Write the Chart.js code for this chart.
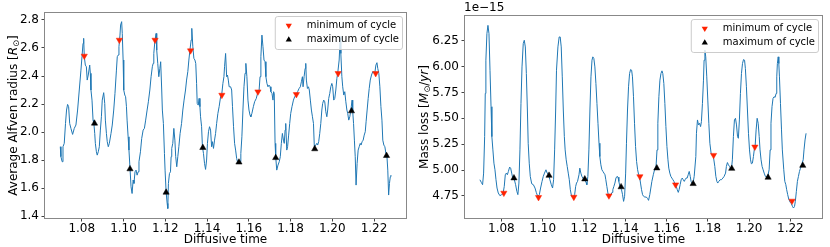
<!DOCTYPE html>
<html>
<head>
<meta charset="utf-8">
<script src="https://cdn.jsdelivr.net/npm/chart.js@4.4.1/dist/chart.umd.min.js"></script>
<style>
    html, body { margin: 0; padding: 0; background: #fff; }
    #painel { position: relative; width: 830px; height: 247px; overflow: hidden; }
    .quadro { position: absolute; top: 0; width: 415px; height: 247px; }
</style>
</head>
<body>
<div id="painel">
    <div class="quadro" style="left:0"><canvas id="chartRaio" width="415" height="247"></canvas></div>
    <div class="quadro" style="left:415px"><canvas id="chartPerda" width="415" height="247"></canvas></div>
</div>
<script>
// ==================================================
// DATA
// ==================================================

const timeTicks = [1.08, 1.10, 1.12, 1.14, 1.16, 1.18, 1.20, 1.22];
const radiusTicks = [1.4, 1.6, 1.8, 2.0, 2.2, 2.4, 2.6, 2.8];
const massTicks = [4.75, 5.00, 5.25, 5.50, 5.75, 6.00, 6.25];

// cycle markers (same times in both panels)
const minTimes = [1.0812, 1.0980, 1.1151, 1.1321, 1.1471, 1.1644, 1.1828, 1.2028, 1.2208];
const maxTimes = [1.0861, 1.1031, 1.1204, 1.1380, 1.1553, 1.1729, 1.1916, 1.2092, 1.2260];

const minRadius = [2.543, 2.657, 2.657, 2.581, 2.264, 2.288, 2.269, 2.419, 2.419];
const maxRadius = [2.062, 1.736, 1.569, 1.888, 1.784, 1.816, 1.879, 2.150, 1.831];

const minMassLoss = [4.779, 4.737, 4.740, 4.753, 4.938, 4.859, 5.144, 5.224, 4.702];
const maxMassLoss = [4.923, 4.948, 4.913, 4.837, 5.019, 4.868, 5.015, 4.929, 5.044];

// Average Alfven radius curve
const radiusTime = [
    1.0697, 1.0700, 1.0706, 1.0710, 1.0716, 1.0722, 1.0727, 1.0732, 1.0737, 1.0742,
    1.0748, 1.0756, 1.0764, 1.0772, 1.0780, 1.0788, 1.0796, 1.0801, 1.0806, 1.0809,
    1.0812, 1.0817, 1.0822, 1.0826, 1.0831, 1.0838, 1.0841, 1.0844, 1.0849, 1.0854,
    1.0858, 1.0862, 1.0865, 1.0870, 1.0874, 1.0879, 1.0884, 1.0889, 1.0894, 1.0898,
    1.0905, 1.0910, 1.0913, 1.0918, 1.0922, 1.0927, 1.0932, 1.0940, 1.0946, 1.0953,
    1.0959, 1.0966, 1.0970, 1.0975, 1.0978, 1.0983, 1.0986, 1.0991, 1.0994, 1.0998,
    1.1001, 1.1006, 1.1010, 1.1014, 1.1017, 1.1022, 1.1026, 1.1031, 1.1036, 1.1041,
    1.1046, 1.1050, 1.1055, 1.1060, 1.1065, 1.1070, 1.1074, 1.1081, 1.1087, 1.1094,
    1.1100, 1.1106, 1.1113, 1.1119, 1.1126, 1.1132, 1.1138, 1.1142, 1.1145, 1.1150,
    1.1156, 1.1159, 1.1164, 1.1169, 1.1174, 1.1178, 1.1183, 1.1186, 1.1191, 1.1196,
    1.1199, 1.1204, 1.1209, 1.1212, 1.1215, 1.1220, 1.1225, 1.1228, 1.1231, 1.1236,
    1.1241, 1.1246, 1.1250, 1.1255, 1.1260, 1.1265, 1.1271, 1.1278, 1.1284, 1.1290,
    1.1297, 1.1302, 1.1308, 1.1313, 1.1318, 1.1324, 1.1327, 1.1332, 1.1337, 1.1342,
    1.1346, 1.1350, 1.1353, 1.1358, 1.1362, 1.1366, 1.1369, 1.1374, 1.1378, 1.1383,
    1.1388, 1.1393, 1.1398, 1.1402, 1.1407, 1.1412, 1.1417, 1.1422, 1.1426, 1.1431,
    1.1436, 1.1441, 1.1446, 1.1452, 1.1458, 1.1465, 1.1471, 1.1476, 1.1481, 1.1484,
    1.1489, 1.1494, 1.1498, 1.1502, 1.1506, 1.1513, 1.1518, 1.1522, 1.1527, 1.1532,
    1.1537, 1.1542, 1.1546, 1.1551, 1.1558, 1.1562, 1.1567, 1.1572, 1.1577, 1.1582,
    1.1586, 1.1591, 1.1596, 1.1601, 1.1606, 1.1610, 1.1615, 1.1622, 1.1628, 1.1636,
    1.1644, 1.1649, 1.1654, 1.1658, 1.1663, 1.1668, 1.1673, 1.1678, 1.1682, 1.1687,
    1.1692, 1.1697, 1.1702, 1.1706, 1.1711, 1.1716, 1.1719, 1.1722, 1.1726, 1.1729,
    1.1734, 1.1740, 1.1746, 1.1751, 1.1756, 1.1761, 1.1766, 1.1770, 1.1774, 1.1777,
    1.1782, 1.1786, 1.1791, 1.1796, 1.1801, 1.1807, 1.1814, 1.1820, 1.1826, 1.1834,
    1.1841, 1.1847, 1.1852, 1.1857, 1.1860, 1.1865, 1.1870, 1.1873, 1.1876, 1.1881,
    1.1886, 1.1890, 1.1895, 1.1900, 1.1905, 1.1910, 1.1914, 1.1921, 1.1926, 1.1930,
    1.1935, 1.1940, 1.1945, 1.1950, 1.1954, 1.1959, 1.1964, 1.1969, 1.1974, 1.1978,
    1.1983, 1.1988, 1.1993, 1.1998, 1.2002, 1.2007, 1.2012, 1.2017, 1.2022, 1.2026,
    1.2033, 1.2038, 1.2041, 1.2046, 1.2050, 1.2055, 1.2060, 1.2065, 1.2070, 1.2074,
    1.2079, 1.2084, 1.2089, 1.2095, 1.2098, 1.2102, 1.2106, 1.2110, 1.2114, 1.2119,
    1.2124, 1.2129, 1.2134, 1.2138, 1.2143, 1.2148, 1.2153, 1.2158, 1.2162, 1.2167,
    1.2172, 1.2177, 1.2182, 1.2188, 1.2194, 1.2204, 1.2209, 1.2214, 1.2218, 1.2223,
    1.2228, 1.2233, 1.2238, 1.2242, 1.2247, 1.2252, 1.2257, 1.2262, 1.2266, 1.2270,
    1.2274, 1.2278, 1.2281
];
const radiusValues = [
    1.895, 1.824, 1.788, 1.895, 1.919, 2.061, 2.157, 2.197, 2.181, 2.061,
    2.026, 1.983, 2.026, 2.050, 2.157, 2.300, 2.442, 2.538, 2.633, 2.669,
    2.538, 2.478, 2.466, 2.371, 2.407, 2.478, 2.419, 2.300, 2.228, 2.085,
    2.061, 1.990, 1.919, 1.859, 1.835, 1.859, 1.895, 2.014, 2.109, 2.228,
    2.281, 2.204, 2.085, 1.990, 1.931, 1.895, 1.919, 1.990, 2.050, 2.157,
    2.276, 2.442, 2.538, 2.550, 2.609, 2.692, 2.764, 2.788, 2.704, 2.514,
    2.300, 2.264, 2.252, 2.181, 2.085, 1.966, 1.871, 1.740, 1.609, 1.561,
    1.657, 1.633, 1.716, 1.728, 1.692, 1.716, 1.788, 1.859, 1.954, 2.014,
    2.026, 2.085, 2.157, 2.216, 2.300, 2.395, 2.466, 2.490, 2.561, 2.645,
    2.704, 2.585, 2.490, 2.395, 2.454, 2.502, 2.300, 2.157, 2.061, 1.847,
    1.728, 1.573, 1.490, 1.454, 1.633, 1.704, 1.716, 1.824, 1.883, 1.919,
    2.026, 1.942, 1.824, 1.752, 1.824, 1.895, 1.990, 2.061, 2.157, 2.228,
    2.300, 2.371, 2.431, 2.514, 2.585, 2.657, 2.740, 2.609, 2.526, 2.514,
    2.490, 2.347, 2.204, 2.192, 2.240, 2.181, 2.109, 2.038, 1.895, 1.847,
    1.776, 1.733, 1.800, 1.919, 2.002, 2.038, 2.014, 1.895, 1.931, 1.883,
    1.942, 1.990, 2.061, 2.133, 2.181, 2.252, 2.276, 2.347, 2.395, 2.466,
    2.561, 2.395, 2.407, 2.371, 2.323, 2.323, 2.300, 2.181, 2.038, 1.919,
    1.871, 1.811, 1.788, 1.776, 1.788, 1.847, 1.966, 2.157, 2.323, 2.419,
    2.490, 2.395, 2.228, 2.157, 2.121, 2.109, 2.133, 2.181, 2.216, 2.240,
    2.288, 2.288, 2.395, 2.538, 2.692, 2.609, 2.514, 2.502, 2.395, 2.347,
    2.323, 2.335, 2.323, 2.288, 2.276, 2.228, 2.288, 2.276, 1.919, 1.824,
    1.728, 1.764, 1.788, 1.824, 1.919, 1.990, 1.942, 1.919, 2.014, 2.061,
    1.871, 1.895, 1.978, 2.061, 2.133, 2.181, 2.228, 2.252, 2.264, 2.288,
    2.311, 2.323, 2.359, 2.395, 2.323, 2.395, 2.454, 2.490, 2.371, 2.311,
    2.323, 2.300, 2.228, 2.157, 2.109, 2.061, 1.895, 1.907, 1.919, 1.907,
    1.931, 1.990, 2.061, 2.157, 2.204, 2.228, 2.216, 2.145, 2.109, 2.157,
    2.240, 2.276, 2.323, 2.347, 2.323, 2.228, 2.240, 2.300, 2.383, 2.419,
    2.514, 2.681, 2.561, 2.395, 2.323, 2.264, 2.288, 2.216, 2.157, 2.133,
    2.085, 2.109, 2.157, 2.228, 2.145, 2.061, 1.942, 1.824, 1.621, 1.776,
    1.871, 1.895, 1.919, 1.907, 1.931, 1.942, 1.978, 2.002, 2.073, 2.157,
    2.240, 2.311, 2.371, 2.407, 2.431, 2.423, 2.478, 2.495, 2.454, 2.419,
    2.323, 2.181, 2.085, 1.942, 1.907, 1.895, 1.847, 1.824, 1.728, 1.550,
    1.633, 1.681, 1.693
];

// Mass loss curve (units of 1e-15 Msun/yr)
const massTime = [
    1.0696, 1.0703, 1.0709, 1.0714, 1.0719, 1.0722, 1.0725, 1.0730, 1.0735, 1.0740,
    1.0745, 1.0750, 1.0754, 1.0759, 1.0764, 1.0769, 1.0774, 1.0779, 1.0785, 1.0793,
    1.0801, 1.0808, 1.0814, 1.0819, 1.0824, 1.0829, 1.0834, 1.0840, 1.0845, 1.0850,
    1.0855, 1.0863, 1.0869, 1.0875, 1.0880, 1.0885, 1.0890, 1.0895, 1.0900, 1.0906,
    1.0911, 1.0916, 1.0921, 1.0926, 1.0930, 1.0935, 1.0940, 1.0947, 1.0955, 1.0963,
    1.0969, 1.0976, 1.0984, 1.0990, 1.0997, 1.1003, 1.1009, 1.1016, 1.1022, 1.1029,
    1.1035, 1.1042, 1.1048, 1.1053, 1.1058, 1.1063, 1.1067, 1.1074, 1.1080, 1.1085,
    1.1090, 1.1095, 1.1100, 1.1105, 1.1109, 1.1114, 1.1119, 1.1124, 1.1129, 1.1134,
    1.1140, 1.1150, 1.1155, 1.1160, 1.1164, 1.1169, 1.1176, 1.1180, 1.1185, 1.1190,
    1.1195, 1.1201, 1.1206, 1.1210, 1.1214, 1.1219, 1.1224, 1.1229, 1.1234, 1.1239,
    1.1243, 1.1248, 1.1253, 1.1258, 1.1263, 1.1268, 1.1273, 1.1277, 1.1282, 1.1287,
    1.1292, 1.1297, 1.1302, 1.1306, 1.1311, 1.1316, 1.1321, 1.1326, 1.1331, 1.1336,
    1.1340, 1.1345, 1.1350, 1.1355, 1.1360, 1.1365, 1.1369, 1.1374, 1.1382, 1.1387,
    1.1392, 1.1397, 1.1402, 1.1406, 1.1411, 1.1416, 1.1421, 1.1426, 1.1431, 1.1435,
    1.1440, 1.1445, 1.1450, 1.1455, 1.1460, 1.1465, 1.1469, 1.1474, 1.1479, 1.1484,
    1.1489, 1.1495, 1.1502, 1.1508, 1.1513, 1.1519, 1.1524, 1.1529, 1.1536, 1.1542,
    1.1549, 1.1554, 1.1558, 1.1563, 1.1568, 1.1573, 1.1578, 1.1582, 1.1587, 1.1592,
    1.1597, 1.1602, 1.1607, 1.1611, 1.1616, 1.1621, 1.1626, 1.1631, 1.1636, 1.1640,
    1.1647, 1.1652, 1.1657, 1.1661, 1.1666, 1.1671, 1.1676, 1.1681, 1.1686, 1.1690,
    1.1695, 1.1700, 1.1705, 1.1710, 1.1715, 1.1719, 1.1724, 1.1729, 1.1734, 1.1742,
    1.1745, 1.1750, 1.1755, 1.1760, 1.1765, 1.1769, 1.1774, 1.1779, 1.1782, 1.1786,
    1.1790, 1.1795, 1.1800, 1.1805, 1.1810, 1.1816, 1.1821, 1.1827, 1.1834, 1.1839,
    1.1844, 1.1848, 1.1853, 1.1860, 1.1866, 1.1873, 1.1879, 1.1886, 1.1890, 1.1895,
    1.1900, 1.1905, 1.1910, 1.1915, 1.1919, 1.1924, 1.1929, 1.1934, 1.1939, 1.1944,
    1.1948, 1.1953, 1.1958, 1.1963, 1.1968, 1.1973, 1.1978, 1.1982, 1.1987, 1.1992,
    1.1997, 1.2002, 1.2007, 1.2011, 1.2016, 1.2021, 1.2026, 1.2029, 1.2034, 1.2039,
    1.2044, 1.2049, 1.2053, 1.2058, 1.2063, 1.2068, 1.2073, 1.2079, 1.2087, 1.2092,
    1.2097, 1.2102, 1.2106, 1.2111, 1.2116, 1.2121, 1.2126, 1.2131, 1.2134, 1.2137,
    1.2141, 1.2144, 1.2147, 1.2152, 1.2157, 1.2161, 1.2168, 1.2173, 1.2178, 1.2182,
    1.2187, 1.2192, 1.2199, 1.2205, 1.2210, 1.2215, 1.2220, 1.2224, 1.2229, 1.2234,
    1.2239, 1.2244, 1.2249, 1.2253, 1.2262, 1.2266, 1.2271, 1.2276
];
const massValues = [
    4.907, 4.881, 4.859, 4.971, 5.323, 5.740, 6.061, 6.317, 6.397, 6.317,
    5.964, 5.612, 5.323, 5.195, 5.067, 5.003, 4.907, 4.827, 4.779, 4.753,
    4.763, 4.772, 4.843, 4.955, 4.971, 4.955, 4.987, 5.029, 5.019, 4.971,
    4.923, 4.907, 4.859, 4.795, 4.763, 4.875, 5.195, 5.644, 5.996, 6.221,
    6.253, 6.189, 5.932, 5.580, 5.259, 5.067, 4.939, 4.868, 4.859, 4.827,
    4.785, 4.747, 4.763, 4.827, 4.891, 4.939, 4.971, 5.003, 4.971, 4.955,
    4.907, 4.859, 4.827, 4.907, 5.195, 5.580, 5.964, 6.189, 6.285, 6.285,
    6.189, 5.900, 5.580, 5.323, 5.195, 5.099, 5.035, 4.971, 4.907, 4.811,
    4.747, 4.740, 4.763, 4.843, 4.875, 4.891, 4.955, 5.019, 4.971, 4.939,
    4.923, 4.907, 4.900, 4.881, 4.859, 4.939, 5.195, 5.580, 5.900, 6.061,
    6.093, 6.077, 5.996, 5.836, 5.644, 5.452, 5.259, 5.131, 5.051, 5.003,
    4.987, 4.971, 4.955, 4.907, 4.843, 4.779, 4.747, 4.747, 4.763, 4.785,
    4.811, 4.843, 4.875, 4.923, 4.939, 4.932, 4.891, 4.843, 4.811, 4.763,
    4.698, 4.747, 4.971, 5.259, 5.580, 5.804, 5.932, 5.971, 5.964, 5.900,
    5.708, 5.452, 5.227, 5.083, 5.003, 4.955, 4.939, 4.875, 4.811, 4.763,
    4.747, 4.740, 4.740, 4.727, 4.708, 4.763, 4.827, 4.891, 4.955, 5.003,
    5.029, 5.195, 5.452, 5.708, 5.868, 5.932, 5.958, 5.932, 5.836, 5.644,
    5.420, 5.227, 5.099, 5.019, 4.971, 4.939, 4.923, 4.907, 4.891, 4.868,
    4.843, 4.811, 4.785, 4.811, 4.859, 4.907, 4.923, 4.907, 4.891, 4.907,
    4.923, 4.923, 4.955, 4.987, 4.939, 4.891, 4.875, 4.881, 4.939, 5.131,
    5.355, 5.484, 5.436, 5.452, 5.420, 5.468, 5.644, 5.868, 6.061, 6.157,
    6.093, 5.900, 5.676, 5.452, 5.259, 5.163, 5.147, 5.131, 5.035, 4.939,
    4.891, 4.875, 4.891, 4.907, 4.907, 4.923, 4.939, 4.971, 5.035, 5.073,
    5.051, 5.035, 5.019, 5.019, 5.099, 5.323, 5.484, 5.500, 5.436, 5.323,
    5.307, 5.484, 5.740, 5.932, 6.029, 6.067, 6.061, 5.980, 5.804, 5.580,
    5.355, 5.195, 5.099, 5.061, 5.067, 5.131, 5.211, 5.224, 5.388, 5.500,
    5.452, 5.323, 5.195, 5.099, 5.035, 5.003, 4.971, 4.939, 4.932, 4.955,
    5.003, 5.195, 5.452, 5.612, 5.692, 5.708, 5.702, 5.740, 5.900, 6.029,
    6.093, 6.029, 5.900, 5.644, 5.388, 5.195, 5.003, 4.891, 4.859, 4.811,
    4.763, 4.721, 4.690, 4.675, 4.650, 4.634, 4.650, 4.698, 4.795, 4.891,
    4.939, 4.987, 5.019, 5.041, 5.099, 5.195, 5.291, 5.355
];

// ==================================================
// ESTILO
// ==================================================

const T_MIN = 1.0619;
const T_MAX = 1.2358;
const AZUL = '#1f77b4';
const VERMELHO = '#ff2200';
const FONTE = "'DejaVu Sans', sans-serif";

Chart.defaults.font.family = FONTE;
Chart.defaults.font.size = 12;
Chart.defaults.color = '#000';

function toPoints(xs, ys) {
    return xs.map((x, i) => ({ x: x, y: ys[i] }));
}

/**
 * Triangle like Chart.js 'triangle' point style (down when rotated)
 */
function desenharTriangulo(ctx, x, y, r, baixo, cor) {
    const s = baixo ? -1 : 1;
    ctx.beginPath();
    ctx.moveTo(x, y - s * r);
    ctx.lineTo(x + 0.866 * r, y + s * 0.5 * r);
    ctx.lineTo(x - 0.866 * r, y + s * 0.5 * r);
    ctx.closePath();
    ctx.fillStyle = cor;
    ctx.fill();
}

/**
 * Rotated axis title built from pieces (italic / subscript as mathtext)
 */
function desenharTituloY(ctx, partes, cx, cy, size) {
    const fontDe = p => `${p.italic ? 'italic ' : ''}${p.sub ? size * 0.7 : size}px ${FONTE}`;
    let total = 0;
    partes.forEach(p => {
        ctx.font = fontDe(p);
        p.w = ctx.measureText(p.text).width;
        total += p.w;
    });
    ctx.save();
    ctx.translate(cx, cy);
    ctx.rotate(-Math.PI / 2);
    ctx.textAlign = 'left';
    ctx.textBaseline = 'alphabetic';
    ctx.fillStyle = '#000';
    let x = -total / 2;
    const base = size * 0.36;
    partes.forEach(p => {
        ctx.font = fontDe(p);
        ctx.fillText(p.text, x, base + (p.sub ? size * 0.22 : 0));
        x += p.w;
    });
    ctx.restore();
}

function molduraPlugin(opts) {
    return {
        id: 'moldura',
        afterDatasetsDraw(chart) {
            const a = chart.chartArea;
            const ctx = chart.ctx;
            ctx.save();
            ctx.strokeStyle = '#888';
            ctx.lineWidth = 1;
            ctx.strokeRect(a.left + 0.5, a.top + 0.5, a.right - a.left - 1, a.bottom - a.top - 1);
            ctx.restore();
        },
        afterDraw(chart) {
            const a = chart.chartArea;
            const ctx = chart.ctx;

            // legend box
            ctx.save();
            ctx.font = `10px ${FONTE}`;
            const itens = [
                { text: 'minimum of cycle', baixo: true, cor: VERMELHO },
                { text: 'maximum of cycle', baixo: false, cor: '#000' }
            ];
            const larg = Math.max(...itens.map(i => ctx.measureText(i.text).width));
            const w = 32 + larg + 3;
            const h = 33;
            const x0 = a.right - 5 - w;
            const y0 = a.top + 4;
            ctx.beginPath();
            ctx.roundRect(x0 + 0.5, y0 + 0.5, w, h, 2.5);
            ctx.fillStyle = 'rgba(255,255,255,0.8)';
            ctx.fill();
            ctx.strokeStyle = '#cccccc';
            ctx.lineWidth = 1;
            ctx.stroke();
            itens.forEach((it, k) => {
                const yy = y0 + 9.5 + k * 14.3;
                desenharTriangulo(ctx, x0 + 14, yy, 3.6, it.baixo, it.cor);
                ctx.fillStyle = '#000';
                ctx.textAlign = 'left';
                ctx.textBaseline = 'middle';
                ctx.fillText(it.text, x0 + 32, yy);
            });
            ctx.restore();

            // y title
            desenharTituloY(ctx, opts.tituloY, opts.tituloX, (a.top + a.bottom) / 2, 12);

            // offset text (scientific notation)
            if (opts.offsetText) {
                ctx.save();
                ctx.font = `12px ${FONTE}`;
                ctx.fillStyle = '#000';
                ctx.textAlign = 'left';
                ctx.textBaseline = 'middle';
                ctx.fillText(opts.offsetText, a.left, 7.5);
                ctx.restore();
            }
        }
    };
}

/**
 * Builds one panel: curve + min/max markers
 */
function criarGrafico(id, opts) {
    const ctx = document.getElementById(id).getContext('2d');
    return new Chart(ctx, {
        type: 'scatter',
        data: {
            datasets: [
                {
                    label: 'minimum of cycle',
                    data: toPoints(minTimes, opts.minValues),
                    pointStyle: 'triangle',
                    pointRotation: 180,
                    pointRadius: 3.6,
                    pointBackgroundColor: VERMELHO,
                    pointBorderColor: VERMELHO,
                    pointBorderWidth: 0.5,
                    order: 0
                },
                {
                    label: 'maximum of cycle',
                    data: toPoints(maxTimes, opts.maxValues),
                    pointStyle: 'triangle',
                    pointRadius: 3.6,
                    pointBackgroundColor: '#000',
                    pointBorderColor: '#000',
                    pointBorderWidth: 0.5,
                    order: 1
                },
                {
                    label: 'curve',
                    data: toPoints(opts.times, opts.values),
                    showLine: true,
                    borderColor: AZUL,
                    borderWidth: 1,
                    pointRadius: 0,
                    pointHoverRadius: 0,
                    tension: 0,
                    order: 2
                }
            ]
        },
        options: {
            responsive: false,
            animation: false,
            devicePixelRatio: 1,
            events: [],
            layout: { padding: opts.padding },
            plugins: {
                legend: { display: false },
                tooltip: { enabled: false }
            },
            scales: {
                x: {
                    type: 'linear',
                    min: T_MIN,
                    max: T_MAX,
                    afterFit: s => { s.height = 28; },
                    afterBuildTicks: s => { s.ticks = timeTicks.map(v => ({ value: v })); },
                    ticks: {
                        callback: v => v.toFixed(2),
                        autoSkip: false,
                        maxRotation: 0,
                        minRotation: 0,
                        padding: 0
                    },
                    grid: { drawOnChartArea: false, tickLength: 2.5, color: '#444' },
                    border: { display: false },
                    title: { display: true, text: 'Diffusive time', padding: 0, font: { size: 12 } }
                },
                y: {
                    type: 'linear',
                    min: opts.yMin,
                    max: opts.yMax,
                    afterFit: s => { s.width = opts.yWidth; },
                    afterBuildTicks: s => { s.ticks = opts.yTicks.map(v => ({ value: v })); },
                    ticks: {
                        callback: v => v.toFixed(opts.yDec),
                        autoSkip: false,
                        padding: 2.5
                    },
                    grid: { drawOnChartArea: false, tickLength: 2.5, color: '#444' },
                    border: { display: false }
                }
            }
        },
        plugins: [molduraPlugin(opts)]
    });
}

criarGrafico('chartRaio', {
    times: radiusTime,
    values: radiusValues,
    minValues: minRadius,
    maxValues: maxRadius,
    yMin: 1.379,
    yMax: 2.857,
    yTicks: radiusTicks,
    yDec: 1,
    yWidth: 44,
    padding: { left: 0, right: 8, top: 12, bottom: 0 },
    tituloX: 12.3,
    tituloY: [
        { text: 'Average Alfven radius [' },
        { text: 'R', italic: true },
        { text: '\u2299', sub: true },
        { text: ']' }
    ]
});

criarGrafico('chartPerda', {
    times: massTime,
    values: massValues,
    minValues: minMassLoss,
    maxValues: maxMassLoss,
    yMin: 4.528,
    yMax: 6.497,
    yTicks: massTicks,
    yDec: 2,
    yWidth: 49,
    padding: { left: 0, right: 7, top: 15, bottom: 0 },
    tituloX: 8.3,
    offsetText: '1e\u221215',
    tituloY: [
        { text: 'Mass loss [' },
        { text: 'M', italic: true },
        { text: '\u2299', sub: true },
        { text: '/' },
        { text: 'yr', italic: true },
        { text: ']' }
    ]
});
</script>
</body>
</html>
